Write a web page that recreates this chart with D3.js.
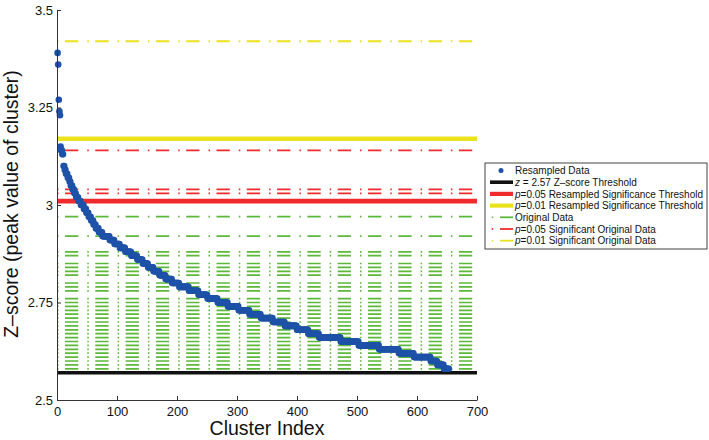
<!DOCTYPE html>
<html>
<head>
<meta charset="utf-8">
<title>cluster z-scores</title>
<script src="https://cdn.jsdelivr.net/npm/d3@7"></script>
<style>
  body { margin: 0; background: #fff; overflow: hidden; }
  svg { display: block; }
  text { font-family: "Liberation Sans", Arial, Helvetica, sans-serif; }
</style>
</head>
<body>
<svg width="709" height="440" id="mainsvg"></svg>
<script>
const resampledValues = [3.39, 3.36, 3.27, 3.24, 3.23, 3.15, 3.14, 3.13, 3.10, 3.09, 3.08, 3.07, 3.06, 3.05, 3.04, 3.03, 3.02, 3.01, 3.00,
  2.99, 2.98, 2.97, 2.96, 2.95, 2.94, 2.93, 2.92, 2.91, 2.90, 2.89, 2.88, 2.87, 2.86, 2.85, 2.84, 2.83, 2.82, 2.81, 2.80,
  2.79, 2.78, 2.77, 2.76, 2.75, 2.74, 2.73, 2.72, 2.71, 2.70, 2.69, 2.68, 2.67, 2.66, 2.65, 2.64, 2.63, 2.62, 2.61, 2.60, 2.59, 2.58];
const resampledCounts = [1, 1, 1, 1, 1, 1, 2, 2, 2, 2, 3, 3, 2, 3, 3, 3, 4, 4, 5,
  4, 4, 4, 4, 4, 5, 6, 12, 8, 9, 9, 10, 10, 9, 9, 9, 10, 10, 11, 12,
  16, 16, 15, 17, 17, 18, 18, 19, 20, 20, 20, 19, 18, 36, 30, 34, 33, 25, 28, 11, 11, 9];

// original data peaks (dash-dot lines)
const originalLevels = [2.97, 2.92, 2.88, 2.87, 2.85, 2.84, 2.83, 2.82, 2.80, 2.79, 2.78, 2.76, 2.75, 2.74, 2.73, 2.72,
  2.71, 2.70, 2.69, 2.68, 2.67, 2.66, 2.65, 2.64, 2.63, 2.62, 2.61, 2.60, 2.59, 2.58];
const p05OriginalLevels = [3.14, 3.04, 3.03];
const p01OriginalLevels = [3.42];

// thresholds
const zThreshold = 2.57;
const p05Threshold = 3.01;
const p01Threshold = 3.17;

const xTicks = [0, 100, 200, 300, 400, 500, 600, 700];
const yTicks = [2.5, 2.75, 3, 3.25, 3.5];

const legendLabels = [
  ['', 'Resampled Data'],
  ['z', ' = 2.57 Z\u2013score Threshold'],
  ['p', '=0.05 Resampled Significance Threshold'],
  ['p', '=0.01 Resampled Significance Threshold'],
  ['', 'Original Data'],
  ['p', '=0.05 Significant Original Data'],
  ['p', '=0.01 Significant Original Data']
];

const colors = {blue: '#1e52a8', black: '#111', red: '#ef2b2b', yellow: '#ebe21e', green: '#5cb83a'};

const svg = d3.select('svg');
const margin = {top: 10, left: 57};
const innerWidth = 420, innerHeight = 390;
const g = svg.append('g').attr('transform', `translate(${margin.left},${margin.top})`);

const xScale = d3.scaleLinear().domain([0, 700]).range([0, innerWidth]);
const yScale = d3.scaleLinear().domain([2.5, 3.5]).range([innerHeight, 0]);

// expand runs into one point per cluster
const points = [];
resampledValues.forEach((v, i) => {
  for (let k = 0; k < resampledCounts[i]; k++) points.push({idx: points.length + 1, z: v});
});

const dashDot = '1.5,6.5,13.3,9';

// horizontal lines across the plot
const hline = (levels, color, w, dash) => {
  g.append('g').selectAll('line').data(levels).join('line')
    .attr('x1', 0).attr('x2', innerWidth)
    .attr('y1', d => yScale(d)).attr('y2', d => yScale(d))
    .attr('stroke', color).attr('stroke-width', w)
    .attr('stroke-dasharray', dash);
};
hline(originalLevels, colors.green, 1.7, dashDot);
hline(p05OriginalLevels, colors.red, 1.8, dashDot);
hline(p01OriginalLevels, colors.yellow, 2, dashDot);

// solid thresholds
hline([zThreshold], colors.black, 3.6, null);
hline([p05Threshold], colors.red, 4.6, null);
hline([p01Threshold], colors.yellow, 4.6, null);

// resampled points
g.append('g').selectAll('circle').data(points).join('circle')
  .attr('cx', d => xScale(d.idx))
  .attr('cy', d => yScale(d.z))
  .attr('r', 3.3)
  .attr('fill', colors.blue);

// axes, ticks inside like matlab
const xAxis = d3.axisBottom(xScale).tickValues(xTicks).tickSizeInner(-4).tickSizeOuter(0).tickPadding(7);
const yAxis = d3.axisLeft(yScale).tickValues(yTicks).tickSizeInner(-4).tickSizeOuter(0).tickPadding(4)
  .tickFormat(d => String(d));
const xg = g.append('g').attr('transform', `translate(0,${innerHeight})`).call(xAxis);
const yg = g.append('g').call(yAxis);
[xg, yg].forEach(a => {
  a.selectAll('text').attr('font-size', 13).attr('fill', '#111').attr('font-family', '"Liberation Sans", Arial, sans-serif');
  a.selectAll('path,line').attr('stroke', '#333');
});

// axis titles
svg.append('text')
  .attr('x', margin.left + innerWidth / 2).attr('y', 435)
  .attr('text-anchor', 'middle').attr('font-size', 19.5).attr('fill', '#111')
  .text('Cluster Index');
svg.append('text')
  .attr('transform', 'translate(18,204) rotate(-90)')
  .attr('text-anchor', 'middle').attr('font-size', 19.5).attr('fill', '#111')
  .text('Z\u2013score (peak value of cluster)');

// legend
const legend = svg.append('g').attr('transform', 'translate(485,163)');
legend.append('rect').attr('width', 222).attr('height', 86)
  .attr('fill', '#fff').attr('stroke', '#444').attr('stroke-width', 1);
const rowY = i => 7.5 + i * 11.7;
const rows = legend.selectAll('.legend').data(legendLabels).join('g')
  .attr('class', 'legend')
  .attr('transform', (d, i) => `translate(0,${rowY(i)})`);
rows.append('text')
  .attr('x', 30).attr('y', 3.6).attr('font-size', 10).attr('fill', '#111')
  .each(function(d) {
    const t = d3.select(this);
    if (d[0]) t.append('tspan').attr('font-style', 'italic').text(d[0]);
    t.append('tspan').text(d[1]);
  });
// samples
const sampleColors = [colors.blue, colors.black, colors.red, colors.yellow, colors.green, colors.red, colors.yellow];
rows.each(function(d, i) {
  const r = d3.select(this);
  if (i === 0) {
    r.append('circle').attr('cx', 16).attr('cy', 0).attr('r', 2.5).attr('fill', colors.blue);
  } else if (i < 4) {
    r.append('line').attr('x1', 5).attr('x2', 28).attr('y1', 0).attr('y2', 0)
      .attr('stroke', sampleColors[i]).attr('stroke-width', i === 1 ? 3.6 : 4.2);
  } else {
    r.append('circle').attr('cx', 7.5).attr('cy', 0).attr('r', 0.9).attr('fill', sampleColors[i]);
    r.append('line').attr('x1', 15).attr('x2', 28).attr('y1', 0).attr('y2', 0)
      .attr('stroke', sampleColors[i]).attr('stroke-width', 1.8);
  }
});
</script>
</body>
</html>
